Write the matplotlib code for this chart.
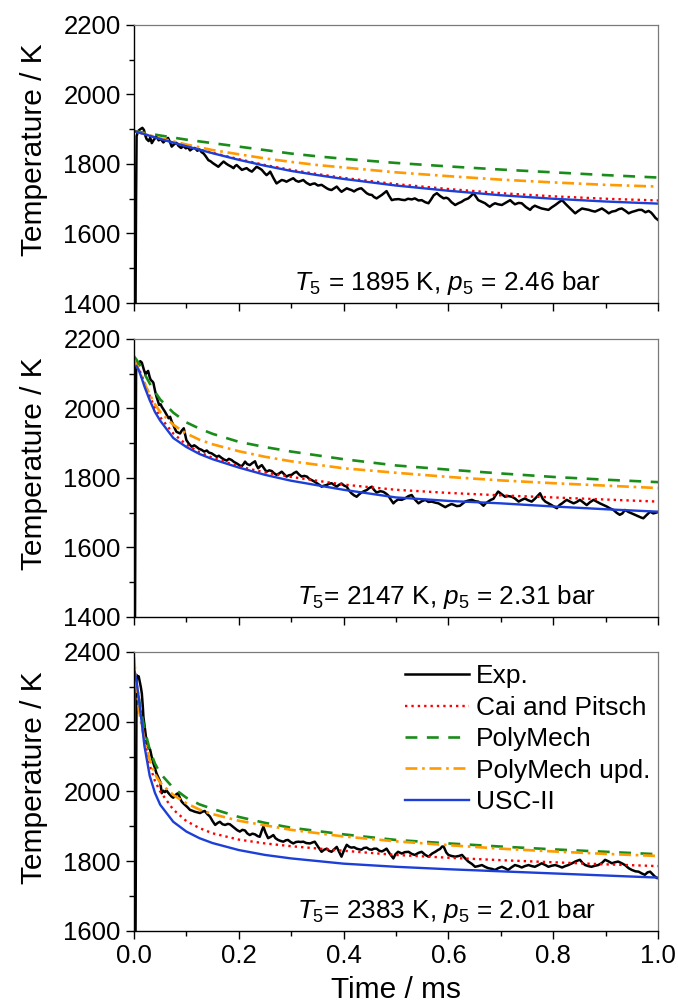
import numpy as np
import matplotlib
matplotlib.use('Agg')
import matplotlib.pyplot as plt
from matplotlib.ticker import AutoMinorLocator, MultipleLocator

plt.rcParams['font.family'] = ['Liberation Sans', 'DejaVu Sans']
plt.rcParams['mathtext.fontset'] = 'custom'
plt.rcParams['mathtext.rm'] = 'Liberation Sans'
plt.rcParams['mathtext.it'] = 'Liberation Sans:italic'

# ---------------- data ----------------
# panel 1: T5 = 1895 K
exp1_t = [0.003, 0.004, 0.005, 0.008, 0.012, 0.016, 0.019, 0.022, 0.024, 0.028, 0.031, 0.034, 0.038, 0.043,
          0.047, 0.051, 0.056, 0.060, 0.065, 0.069, 0.072, 0.076, 0.081, 0.085, 0.090, 0.094, 0.099, 0.103,
          0.107, 0.112, 0.116, 0.121, 0.125, 0.129, 0.133, 0.137, 0.142, 0.146, 0.151, 0.156, 0.161, 0.166,
          0.171, 0.176, 0.180, 0.185, 0.190, 0.193, 0.196, 0.201, 0.206, 0.211, 0.215, 0.220, 0.225, 0.230,
          0.234, 0.239, 0.244, 0.249, 0.253, 0.257, 0.260, 0.266, 0.272, 0.277, 0.282, 0.287, 0.291, 0.297,
          0.304, 0.309, 0.314, 0.318, 0.323, 0.329, 0.336, 0.341, 0.345, 0.351, 0.358, 0.363, 0.368, 0.372,
          0.377, 0.382, 0.387, 0.392, 0.396, 0.401, 0.406, 0.411, 0.415, 0.420, 0.425, 0.430, 0.434, 0.439,
          0.444, 0.449, 0.454, 0.458, 0.463, 0.468, 0.473, 0.478, 0.482, 0.487, 0.492, 0.497, 0.505, 0.511,
          0.517, 0.523, 0.530, 0.536, 0.543, 0.549, 0.556, 0.562, 0.567, 0.572, 0.578, 0.584, 0.591, 0.596,
          0.600, 0.606, 0.613, 0.619, 0.625, 0.631, 0.638, 0.643, 0.648, 0.653, 0.657, 0.663, 0.670, 0.675,
          0.679, 0.684, 0.689, 0.695, 0.702, 0.710, 0.718, 0.722, 0.727, 0.734, 0.740, 0.748, 0.756, 0.760,
          0.765, 0.771, 0.778, 0.785, 0.791, 0.797, 0.804, 0.811, 0.817, 0.823, 0.829, 0.836, 0.842, 0.848,
          0.855, 0.861, 0.868, 0.874, 0.880, 0.887, 0.893, 0.900, 0.906, 0.912, 0.919, 0.925, 0.931, 0.938,
          0.944, 0.950, 0.957, 0.963, 0.969, 0.976, 0.982, 0.987, 0.991, 0.995, 1.000]
exp1_T = [1400, 1700, 1880, 1895, 1900, 1904, 1898, 1880, 1872, 1866, 1876, 1860, 1870, 1879,
          1868, 1872, 1862, 1868, 1875, 1862, 1850, 1856, 1861, 1852, 1846, 1852, 1845, 1848,
          1839, 1845, 1846, 1838, 1842, 1834, 1830, 1822, 1811, 1808, 1802, 1797, 1792, 1800,
          1807, 1801, 1797, 1793, 1788, 1794, 1797, 1790, 1783, 1786, 1788, 1782, 1778, 1786,
          1792, 1788, 1783, 1774, 1768, 1773, 1778, 1760, 1744, 1749, 1754, 1752, 1749, 1754,
          1759, 1752, 1749, 1751, 1754, 1746, 1740, 1743, 1744, 1738, 1740, 1735, 1730, 1727,
          1725, 1730, 1735, 1726, 1720, 1725, 1730, 1727, 1725, 1721, 1726, 1729, 1730, 1723,
          1716, 1712, 1711, 1705, 1701, 1706, 1711, 1717, 1722, 1708, 1696, 1698, 1699, 1697,
          1696, 1700, 1698, 1701, 1695, 1696, 1690, 1687, 1698, 1710, 1716, 1708, 1701, 1703,
          1700, 1690, 1682, 1687, 1691, 1697, 1701, 1708, 1716, 1705, 1696, 1692, 1687, 1681,
          1677, 1683, 1687, 1684, 1682, 1689, 1696, 1690, 1684, 1688, 1687, 1676, 1668, 1675,
          1680, 1676, 1672, 1670, 1668, 1675, 1682, 1690, 1696, 1686, 1677, 1667, 1658, 1665,
          1672, 1670, 1668, 1665, 1663, 1668, 1672, 1665, 1658, 1663, 1665, 1670, 1672, 1665,
          1658, 1662, 1665, 1668, 1668, 1661, 1665, 1660, 1653, 1645, 1639]

mod1_t = [0.0, 0.05, 0.1, 0.15, 0.2, 0.25, 0.3, 0.35, 0.4, 0.5, 0.6, 0.7, 0.8, 0.9, 1.0]
cai1 = [1895, 1872, 1851, 1832, 1814, 1797, 1783, 1771, 1760, 1742, 1728, 1716, 1707, 1700, 1695]
poly1 = [1895, 1882, 1870, 1860, 1850, 1840, 1830, 1822, 1815, 1803, 1793, 1784, 1776, 1768, 1761]
polyupd1 = [1895, 1874, 1856, 1840, 1828, 1816, 1806, 1797, 1790, 1776, 1765, 1755, 1747, 1740, 1735]
usc1 = [1895, 1872, 1851, 1831, 1812, 1795, 1780, 1768, 1757, 1738, 1723, 1710, 1700, 1692, 1686]

# panel 2: T5 = 2147 K
exp2_t = [0.002, 0.003, 0.004, 0.005, 0.009, 0.012, 0.015, 0.019, 0.022, 0.024, 0.027, 0.030, 0.032, 0.035,
          0.037, 0.040, 0.043, 0.046, 0.048, 0.051, 0.053, 0.056, 0.059, 0.063, 0.066, 0.069, 0.072, 0.075,
          0.078, 0.081, 0.085, 0.088, 0.091, 0.095, 0.098, 0.100, 0.105, 0.110, 0.115, 0.119, 0.124, 0.129,
          0.134, 0.139, 0.143, 0.148, 0.153, 0.158, 0.162, 0.167, 0.172, 0.177, 0.181, 0.186, 0.191, 0.196,
          0.200, 0.205, 0.209, 0.212, 0.216, 0.221, 0.226, 0.231, 0.234, 0.237, 0.241, 0.244, 0.249, 0.253,
          0.258, 0.263, 0.267, 0.272, 0.277, 0.282, 0.287, 0.291, 0.296, 0.301, 0.305, 0.310, 0.315, 0.320,
          0.325, 0.330, 0.334, 0.339, 0.344, 0.349, 0.354, 0.358, 0.363, 0.368, 0.372, 0.377, 0.382, 0.387,
          0.391, 0.396, 0.401, 0.406, 0.410, 0.415, 0.420, 0.425, 0.429, 0.434, 0.439, 0.444, 0.449, 0.454,
          0.458, 0.463, 0.470, 0.476, 0.481, 0.485, 0.490, 0.495, 0.499, 0.504, 0.511, 0.518, 0.524, 0.530,
          0.536, 0.543, 0.549, 0.556, 0.562, 0.568, 0.575, 0.581, 0.587, 0.594, 0.600, 0.606, 0.610, 0.616,
          0.622, 0.627, 0.632, 0.638, 0.645, 0.651, 0.657, 0.662, 0.667, 0.671, 0.676, 0.681, 0.686, 0.690,
          0.695, 0.702, 0.708, 0.714, 0.721, 0.727, 0.734, 0.740, 0.746, 0.752, 0.759, 0.765, 0.770, 0.775,
          0.780, 0.785, 0.791, 0.797, 0.802, 0.807, 0.812, 0.817, 0.822, 0.826, 0.832, 0.839, 0.845, 0.851,
          0.857, 0.864, 0.870, 0.877, 0.883, 0.889, 0.896, 0.902, 0.909, 0.915, 0.921, 0.927, 0.932, 0.937,
          0.944, 0.950, 0.956, 0.963, 0.968, 0.972, 0.978, 0.985, 0.991, 0.998]
exp2_T = [1400, 1800, 2100, 2135, 2128, 2136, 2132, 2111, 2098, 2103, 2108, 2090, 2082, 2078,
          2074, 2052, 2034, 2020, 2010, 2012, 2005, 1998, 1991, 1980, 1972, 1976, 1962, 1953,
          1942, 1933, 1930, 1928, 1936, 1943, 1922, 1909, 1898, 1890, 1894, 1890, 1884, 1881,
          1876, 1879, 1873, 1871, 1866, 1861, 1864, 1858, 1853, 1850, 1855, 1852, 1846, 1842,
          1838, 1833, 1840, 1847, 1840, 1837, 1843, 1848, 1836, 1828, 1834, 1837, 1826, 1818,
          1822, 1820, 1814, 1809, 1813, 1818, 1810, 1804, 1808, 1809, 1814, 1818, 1810, 1804,
          1806, 1804, 1798, 1794, 1790, 1785, 1780, 1775, 1778, 1780, 1783, 1785, 1780, 1775,
          1780, 1784, 1778, 1775, 1765, 1756, 1750, 1746, 1752, 1758, 1762, 1765, 1771, 1775,
          1766, 1758, 1762, 1760, 1755, 1750, 1738, 1727, 1733, 1738, 1737, 1742, 1748, 1751,
          1738, 1727, 1733, 1737, 1731, 1732, 1729, 1727, 1722, 1716, 1721, 1725, 1723, 1719,
          1720, 1726, 1732, 1735, 1737, 1733, 1732, 1727, 1720, 1727, 1732, 1737, 1740, 1750,
          1761, 1753, 1746, 1748, 1746, 1741, 1732, 1737, 1741, 1736, 1732, 1740, 1748, 1756,
          1740, 1732, 1727, 1722, 1717, 1713, 1722, 1727, 1733, 1737, 1732, 1727, 1731, 1737,
          1730, 1722, 1730, 1737, 1732, 1727, 1722, 1718, 1712, 1708, 1700, 1694, 1698, 1708,
          1702, 1698, 1694, 1689, 1686, 1684, 1693, 1703, 1698, 1701]

mod_t = [0.0, 0.005, 0.01, 0.015, 0.02, 0.03, 0.04, 0.05, 0.075, 0.1, 0.125, 0.15, 0.2, 0.25, 0.3,
         0.4, 0.5, 0.6, 0.7, 0.8, 0.9, 1.0]
cai2 = [np.nan, 2124, 2112, 2094, 2075, 2036, 2002, 1975, 1928, 1896, 1874, 1858, 1833, 1816, 1803,
        1781, 1766, 1757, 1750, 1744, 1738, 1732]
poly2 = [2150, 2140, 2128, 2115, 2100, 2072, 2048, 2026, 1988, 1960, 1942, 1927, 1904, 1889, 1876,
         1854, 1836, 1824, 1813, 1803, 1795, 1788]
polyupd2 = [2140, 2125, 2108, 2090, 2072, 2040, 2012, 1990, 1953, 1928, 1910, 1897, 1877, 1861, 1848,
            1828, 1815, 1803, 1793, 1785, 1778, 1771]
usc2 = [np.nan, 2122, 2107, 2086, 2063, 2024, 1990, 1965, 1915, 1889, 1869, 1854, 1830, 1809, 1792,
        1766, 1744, 1734, 1727, 1718, 1710, 1703]

# panel 3: T5 = 2383 K
exp3_t = [0.003, 0.004, 0.0045, 0.005, 0.007, 0.009, 0.011, 0.013, 0.015, 0.017, 0.018, 0.020, 0.021, 0.023,
          0.024, 0.027, 0.031, 0.034, 0.037, 0.040, 0.043, 0.047, 0.050, 0.053, 0.056, 0.059, 0.062, 0.066,
          0.069, 0.072, 0.075, 0.078, 0.081, 0.084, 0.088, 0.091, 0.094, 0.097, 0.102, 0.107, 0.111, 0.116,
          0.121, 0.126, 0.131, 0.135, 0.140, 0.145, 0.150, 0.155, 0.160, 0.164, 0.169, 0.174, 0.179, 0.183,
          0.188, 0.193, 0.197, 0.202, 0.207, 0.212, 0.216, 0.221, 0.226, 0.231, 0.236, 0.240, 0.244, 0.247,
          0.251, 0.256, 0.261, 0.266, 0.270, 0.275, 0.280, 0.285, 0.290, 0.294, 0.299, 0.304, 0.309, 0.314,
          0.318, 0.323, 0.329, 0.336, 0.341, 0.345, 0.352, 0.358, 0.363, 0.368, 0.372, 0.377, 0.382, 0.387,
          0.392, 0.396, 0.401, 0.406, 0.411, 0.415, 0.420, 0.425, 0.430, 0.434, 0.439, 0.444, 0.449, 0.454,
          0.458, 0.463, 0.468, 0.473, 0.478, 0.482, 0.488, 0.495, 0.499, 0.504, 0.511, 0.517, 0.524, 0.530,
          0.536, 0.543, 0.549, 0.556, 0.562, 0.569, 0.575, 0.580, 0.584, 0.588, 0.591, 0.596, 0.600, 0.606,
          0.613, 0.620, 0.626, 0.632, 0.638, 0.645, 0.651, 0.657, 0.664, 0.670, 0.676, 0.683, 0.689, 0.695,
          0.702, 0.708, 0.714, 0.720, 0.727, 0.734, 0.740, 0.746, 0.753, 0.759, 0.765, 0.772, 0.778, 0.785,
          0.791, 0.797, 0.804, 0.810, 0.817, 0.823, 0.829, 0.836, 0.842, 0.847, 0.851, 0.856, 0.861, 0.867,
          0.873, 0.880, 0.886, 0.893, 0.899, 0.905, 0.912, 0.918, 0.924, 0.931, 0.937, 0.944, 0.950, 0.957,
          0.963, 0.969, 0.975, 0.980, 0.985, 0.990, 0.994, 0.998]
exp3_T = [1600, 2000, 2250, 2334, 2328, 2330, 2315, 2300, 2281, 2240, 2214, 2190, 2176, 2155,
          2143, 2128, 2119, 2098, 2081, 2066, 2052, 2038, 2028, 1995, 2002, 1998, 2003, 1995,
          1990, 1985, 1982, 1988, 1992, 1995, 1980, 1971, 1966, 1962, 1955, 1947, 1945, 1942,
          1940, 1938, 1942, 1944, 1935, 1928, 1915, 1904, 1910, 1913, 1906, 1904, 1907, 1906,
          1900, 1894, 1889, 1885, 1890, 1888, 1880, 1875, 1879, 1877, 1872, 1870, 1888, 1899,
          1882, 1866, 1870, 1875, 1866, 1861, 1858, 1856, 1860, 1861, 1855, 1851, 1855, 1856,
          1855, 1856, 1852, 1851, 1854, 1856, 1840, 1827, 1833, 1836, 1830, 1827, 1834, 1841,
          1825, 1813, 1832, 1847, 1841, 1839, 1840, 1836, 1834, 1833, 1838, 1839, 1834, 1833,
          1836, 1836, 1830, 1828, 1832, 1836, 1822, 1808, 1820, 1827, 1822, 1826, 1827, 1821,
          1818, 1824, 1827, 1818, 1813, 1822, 1827, 1832, 1835, 1842, 1842, 1825, 1818, 1815,
          1813, 1815, 1818, 1808, 1799, 1792, 1784, 1786, 1789, 1784, 1780, 1778, 1775, 1780,
          1784, 1780, 1775, 1782, 1789, 1786, 1782, 1786, 1789, 1786, 1784, 1789, 1794, 1789,
          1784, 1787, 1789, 1786, 1782, 1786, 1789, 1794, 1799, 1802, 1804, 1795, 1789, 1786,
          1784, 1787, 1789, 1795, 1804, 1800, 1794, 1797, 1799, 1794, 1789, 1780, 1775, 1771,
          1770, 1765, 1761, 1768, 1770, 1762, 1756, 1752]

cai3 = [2340, 2310, 2262, 2205, 2150, 2075, 2030, 2000, 1948, 1915, 1895, 1880, 1862, 1851, 1843,
        1830, 1818, 1810, 1803, 1797, 1791, 1786]
poly3 = [2335, 2300, 2260, 2220, 2180, 2120, 2080, 2052, 2010, 1982, 1963, 1950, 1927, 1910, 1896,
         1877, 1861, 1851, 1842, 1834, 1827, 1820]
polyupd3 = [2385, 2300, 2230, 2185, 2150, 2090, 2050, 2025, 1990, 1966, 1948, 1935, 1916, 1903, 1890,
            1871, 1857, 1846, 1836, 1828, 1821, 1815]
usc3 = [2355, 2315, 2258, 2195, 2130, 2045, 1996, 1962, 1913, 1885, 1866, 1852, 1832, 1818, 1808,
        1793, 1784, 1777, 1771, 1765, 1759, 1753]

labels = ['Exp.', 'Cai and Pitsch', 'PolyMech', 'PolyMech upd.', 'USC-II']
notes = [r'$T_5$ = 1895 K, $p_5$ = 2.46 bar',
         r'$T_5$= 2147 K, $p_5$ = 2.31 bar',
         r'$T_5$= 2383 K, $p_5$ = 2.01 bar']
ylims = [(1400, 2200), (1400, 2200), (1600, 2400)]

# ---------------- plot ----------------
fig = plt.figure(figsize=(6.78, 10.07), dpi=100)
left, width = 0.1976, 0.7729
boxes = [(left, 0.6991, width, 0.2761),
         (left, 0.3873, width, 0.2761),
         (left, 0.0755, width, 0.2771)]

panels = [
    (exp1_t, exp1_T, mod1_t, cai1, poly1, polyupd1, usc1),
    (exp2_t, exp2_T, mod_t, cai2, poly2, polyupd2, usc2),
    (exp3_t, exp3_T, mod_t, cai3, poly3, polyupd3, usc3),
]

green = '#1a8c1a'
orange = '#ff9a00'
blue = '#1c3fd8'

for i, (box, p) in enumerate(zip(boxes, panels)):
    et, eT, mt, cai, poly, upd, usc = p
    ax = fig.add_axes(box)
    ax.plot(et, eT, color='black', lw=1.8, label=labels[0])
    ax.plot(mt, cai, color='red', lw=1.7, dashes=(1, 1.7), label=labels[1])
    ax.plot(mt, poly, color=green, lw=1.9, dashes=(4.5, 3.6), label=labels[2])
    ax.plot(mt, upd, color=orange, lw=1.9, dashes=(4.5, 1.8, 1, 1.8), label=labels[3])
    ax.plot(mt, usc, color=blue, lw=1.7, label=labels[4])

    ax.set_xlim(0, 1.0)
    ax.set_ylim(*ylims[i])
    ax.xaxis.set_major_locator(MultipleLocator(0.2))
    ax.xaxis.set_minor_locator(AutoMinorLocator(2))
    ax.yaxis.set_major_locator(MultipleLocator(200))
    ax.yaxis.set_minor_locator(AutoMinorLocator(2))
    ax.tick_params(which='both', direction='out', top=False, right=False, labelsize=18.5, pad=3.5)
    ax.tick_params(which='major', length=6, width=1)
    ax.tick_params(which='minor', length=3.5, width=1)
    for s in ['top', 'right']:
        ax.spines[s].set_color('#7a7a7a')
        ax.spines[s].set_linewidth(0.9)
    for s in ['left', 'bottom']:
        ax.spines[s].set_linewidth(1.0)

    ax.set_ylabel('Temperature / K', fontsize=21.5)
    ax.yaxis.set_label_coords(-0.165, 0.55)
    ax.text(0.597, 0.045, notes[i], transform=ax.transAxes, ha='center', va='baseline', fontsize=18.8)

    if i < 2:
        ax.tick_params(labelbottom=False)
    else:
        ax.set_xlabel('Time / ms', fontsize=21.5, labelpad=6)
        ax.legend(loc='upper right', bbox_to_anchor=(0.985, 0.955), frameon=False, fontsize=19,
                  handlelength=2.4, handletextpad=0.27, labelspacing=0.28, borderaxespad=0, borderpad=0)

fig.savefig('out.png', dpi=100)
